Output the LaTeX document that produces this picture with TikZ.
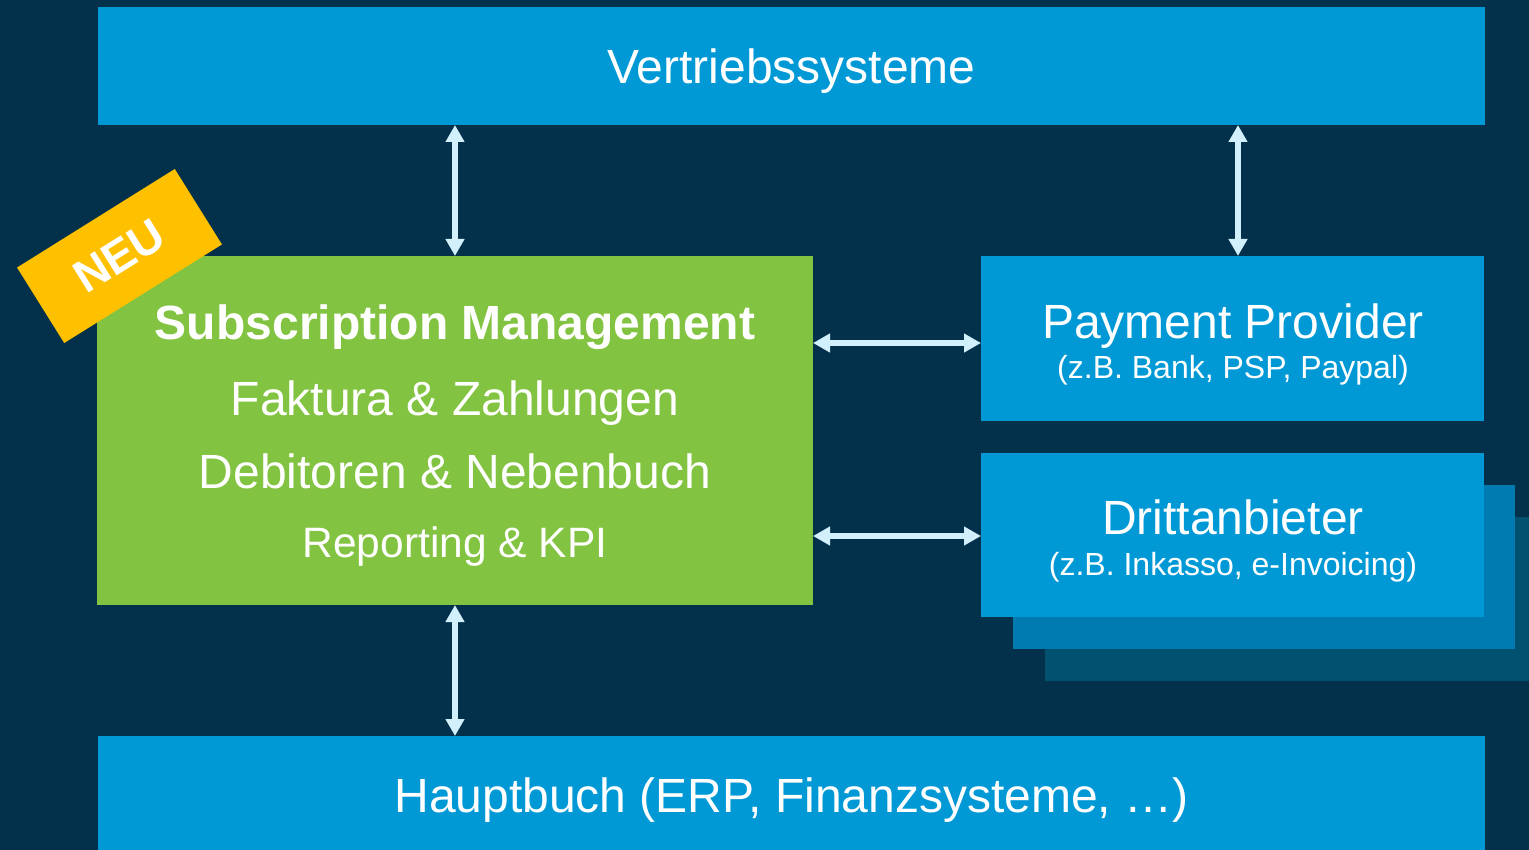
\documentclass[tikz,border=0pt]{standalone}
\usepackage{fontspec}
\setmainfont{Liberation Sans}
\usetikzlibrary{arrows.meta}
\definecolor{bgnavy}{HTML}{03304A}
\definecolor{boxblue}{HTML}{0099D6}
\definecolor{layertwo}{HTML}{007BB2}
\definecolor{layerthree}{HTML}{00506F}
\definecolor{boxgreen}{HTML}{82C341}
\definecolor{ribbon}{HTML}{FFC000}
\definecolor{arrowblue}{HTML}{D2F0FC}
\begin{document}
\begin{tikzpicture}[x=1pt,y=-1pt,
  panel/.style={draw=none, inner sep=0pt, outer sep=0pt, anchor=north west},
  bigtxt/.style={text=white, inner sep=0pt, anchor=base, font=\fontsize{48}{56}\selectfont},
  smalltxt/.style={text=white, inner sep=0pt, anchor=base, font=\fontsize{32}{38}\selectfont},
  dbl/.style={draw=arrowblue, line width=6pt, {Triangle[width=18pt,length=17pt]}-{Triangle[width=18pt,length=17pt]}}
]
\fill[bgnavy] (0,0) rectangle (1529,850);
\useasboundingbox (0,0) rectangle (1529,850);

% top and bottom bars
\node[panel, fill=boxblue, minimum width=1387pt, minimum height=118pt] (vert) at (98,7) {};
\node[panel, fill=boxblue, minimum width=1387pt, minimum height=114pt] (hb) at (98,736) {};
\node[bigtxt] (verttxt) at (791.5,84) {Vertriebssysteme};
\node[bigtxt] (hbtxt) at (791.5,812) {Hauptbuch (ERP, Finanzsysteme, …)};

% green box
\node[panel, fill=boxgreen, minimum width=716pt, minimum height=349pt] (sm) at (97,256) {};
\node[bigtxt, font=\fontsize{48}{56}\selectfont\bfseries] (smt1) at (455,340) {Subscription Management};
\node[bigtxt] (smt2) at (455,415) {Faktura \& Zahlungen};
\node[bigtxt] (smt3) at (455,488) {Debitoren \& Nebenbuch};
\node[bigtxt, font=\fontsize{42.5}{50}\selectfont] (smt4) at (455,557) {Reporting \& KPI};

% NEU ribbon
\node[fill=ribbon, minimum width=186pt, minimum height=89pt, inner sep=0pt, rotate=32,
      text=white, font=\fontsize{46}{52}\selectfont\bfseries] (neu) at (119.5,256) {NEU};

% payment provider
\node[panel, fill=boxblue, minimum width=503pt, minimum height=165pt] (pp) at (981,256) {};
\node[bigtxt] (pptxt) at (1233,338) {Payment Provider};
\node[smalltxt] (ppsub) at (1233,378) {(z.B. Bank, PSP, Paypal)};

% Drittanbieter stack
\node[panel, fill=layerthree, minimum width=484pt, minimum height=164pt] (da3) at (1045,517) {};
\node[panel, fill=layertwo, minimum width=502pt, minimum height=164pt] (da2) at (1013,485) {};
\node[panel, fill=boxblue, minimum width=503pt, minimum height=164pt] (da) at (981,453) {};
\node[bigtxt] (datxt) at (1233,534) {Drittanbieter};
\node[smalltxt] (dasub) at (1233,575) {(z.B. Inkasso, e-Invoicing)};

% connectors
\draw[dbl] (sm.north) -- (sm.north |- vert.south);
\draw[dbl] ([xshift=5.5pt]pp.north) -- ([xshift=5.5pt]pp.north |- vert.south);
\draw[dbl] ([yshift=-4.5pt]pp.west -| sm.east) -- ([yshift=-4.5pt]pp.west);
\draw[dbl] ([yshift=-1pt]da.west -| sm.east) -- ([yshift=-1pt]da.west);
\draw[dbl] (sm.south) -- (sm.south |- hb.north);
\end{tikzpicture}
\end{document}
